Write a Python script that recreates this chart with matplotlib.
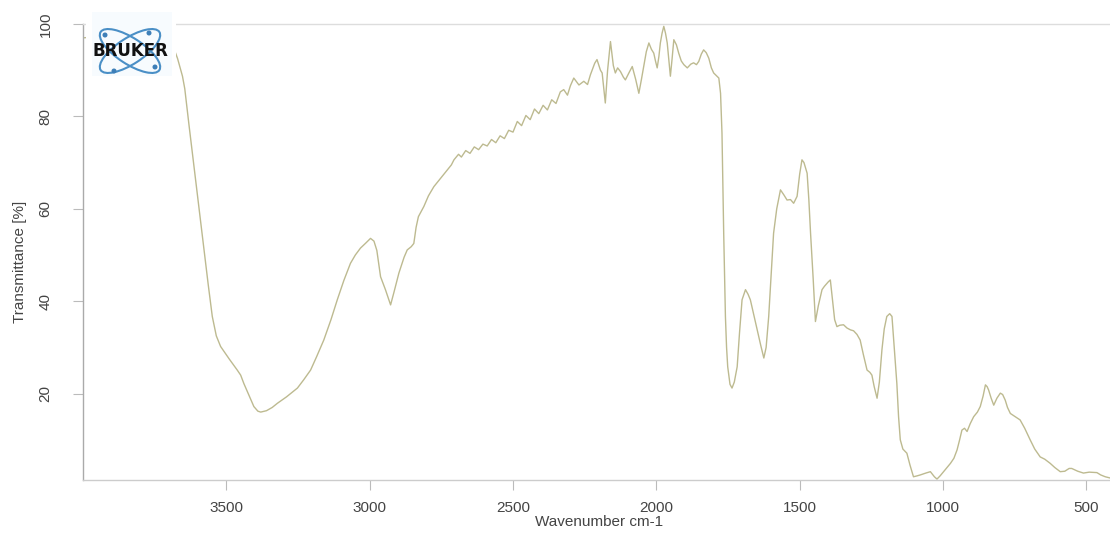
import matplotlib
matplotlib.use("Agg")
import matplotlib.pyplot as plt
from matplotlib.patches import Ellipse, Rectangle, Circle

# IR transmittance spectrum
wavenumber = [
    4000, 3900, 3800, 3740, 3710, 3694, 3670, 3653, 3645, 3630, 3613, 3595, 3578,
    3563, 3549, 3535, 3520, 3490, 3462, 3450, 3439, 3420, 3404, 3390, 3380, 3360,
    3340, 3322, 3290, 3252, 3230, 3206, 3185, 3160, 3135, 3113, 3090, 3067, 3050,
    3032, 3015, 2997, 2985, 2975, 2962, 2945, 2927, 2915, 2898, 2880, 2869, 2855,
    2846, 2838, 2830, 2811, 2795, 2776, 2750, 2729, 2715, 2706, 2690, 2680, 2665,
    2650, 2635, 2620, 2605, 2590, 2575, 2560, 2545, 2530, 2515, 2500, 2485, 2470,
    2455, 2440, 2425, 2410, 2395, 2380, 2365, 2350, 2335, 2323, 2310, 2300, 2288,
    2270, 2253, 2240, 2230, 2215, 2207, 2195, 2189, 2178, 2170, 2160, 2150, 2143,
    2135, 2125, 2115, 2108, 2095, 2084, 2072, 2061, 2052, 2044, 2035, 2026, 2017,
    2009, 2003, 1997, 1991, 1986, 1980, 1974, 1968, 1962, 1956, 1951, 1945, 1939,
    1930, 1922, 1913, 1904, 1892, 1880, 1870, 1860, 1852, 1843, 1835, 1826, 1817,
    1808, 1800, 1790, 1782, 1776, 1771, 1765, 1759, 1755, 1751, 1743, 1736, 1728,
    1718, 1710, 1701, 1689, 1680, 1672, 1660, 1648, 1636, 1625, 1617, 1608, 1600,
    1591, 1580, 1567, 1555, 1544, 1532, 1521, 1509, 1500, 1492, 1485, 1474, 1468,
    1462, 1453, 1445, 1435, 1422, 1414, 1400, 1393, 1385, 1378, 1370, 1360, 1347,
    1335, 1323, 1312, 1300, 1289, 1278, 1265, 1255, 1248, 1240, 1230, 1222, 1213,
    1205, 1196, 1186, 1178, 1170, 1161, 1155, 1149, 1140, 1126, 1115, 1103, 1090,
    1079, 1060, 1044, 1030, 1021, 1010, 998, 986, 974, 962, 951, 942, 934, 925,
    916, 905, 893, 880, 870, 860, 852, 846, 841, 832, 823, 812, 800, 792, 783, 775,
    765, 748, 731, 715, 696, 680, 661, 645, 626, 610, 591, 575, 560, 551, 530, 510,
    490, 463, 450, 434, 416, 400,
]
transmittance = [
    97.0, 97.5, 97.2, 97.5, 97.8, 96.6, 92.5, 88.7, 86.0, 78.0, 69.2, 60.0, 51.1,
    43.5, 36.7, 32.5, 30.2, 27.5, 25.1, 24.0, 22.2, 19.5, 17.2, 16.2, 16.0, 16.3,
    17.0, 17.9, 19.3, 21.2, 23.0, 25.1, 28.0, 31.6, 36.0, 40.3, 44.5, 48.2, 50.0,
    51.5, 52.5, 53.6, 53.0, 51.0, 45.3, 42.5, 39.2, 42.0, 46.1, 49.5, 51.1, 51.8,
    52.5, 56.0, 58.3, 60.5, 62.8, 64.8, 66.8, 68.4, 69.5, 70.6, 71.8, 71.2, 72.6,
    72.0, 73.4, 72.8, 74.0, 73.6, 75.0, 74.3, 75.8, 75.2, 77.0, 76.6, 78.9, 78.0,
    80.2, 79.3, 81.6, 80.6, 82.4, 81.4, 83.6, 82.8, 85.3, 85.8, 84.6, 86.6, 88.3,
    86.8, 87.6, 86.9, 89.0, 91.5, 92.3, 90.0, 89.4, 82.9, 90.0, 96.2, 91.0, 89.4,
    90.5, 89.7, 88.5, 87.9, 89.5, 90.8, 88.0, 85.0, 88.0, 90.8, 94.0, 95.9, 94.5,
    93.7, 92.0, 90.5, 93.0, 95.9, 98.0, 99.5, 98.0, 95.9, 92.0, 88.7, 92.5, 96.6,
    95.5, 93.7, 92.0, 91.2, 90.5, 91.3, 91.6, 91.2, 91.9, 93.5, 94.4, 93.8, 92.6,
    90.5, 89.4, 88.8, 88.3, 85.0, 76.4, 54.7, 36.7, 30.0, 25.8, 22.0, 21.2, 22.5,
    25.8, 33.0, 40.3, 42.5, 41.5, 40.3, 37.0, 33.8, 30.5, 27.7, 30.0, 36.7, 45.0,
    54.7, 60.0, 64.1, 63.0, 61.9, 62.0, 61.2, 62.7, 67.5, 70.6, 70.0, 67.7, 62.0,
    54.7, 45.0, 35.6, 39.0, 42.5, 43.2, 44.2, 44.6, 40.0, 36.0, 34.5, 34.8, 34.9,
    34.2, 33.8, 33.6, 32.8, 31.6, 28.5, 25.1, 24.6, 24.0, 21.5, 19.0, 22.5, 29.5,
    34.0, 36.7, 37.3, 36.7, 30.0, 22.2, 15.0, 10.0, 8.0, 7.1, 4.5, 2.0, 2.2,
    2.4, 2.8, 3.1, 2.0, 1.5, 2.2, 3.1, 4.0, 4.9, 6.0, 7.8, 10.0, 12.1, 12.5,
    11.8, 13.5, 15.0, 16.0, 17.2, 19.5, 21.9, 21.5, 20.8, 19.0, 17.5, 19.0, 20.1, 19.8, 18.6, 17.0,
    15.7, 15.0, 14.3, 12.5, 10.0, 8.0, 6.3, 5.8, 4.9, 4.0, 3.1, 3.2, 3.8, 3.8, 3.2, 2.8,
    3.0, 2.9, 2.4, 2.0, 1.7, 1.6,
]

x_ticks = [3500, 3000, 2500, 2000, 1500, 1000, 500]
y_ticks = [20, 40, 60, 80, 100]

plt.rcParams["font.family"] = ["Liberation Sans", "DejaVu Sans"]

W, H = 1110, 535
fig = plt.figure(figsize=(W / 100, H / 100), dpi=100)
fig.patch.set_facecolor("white")

# axes box: left edge at 83 px, right edge just past the figure border
ax = fig.add_axes([83 / W, 55 / H, 1032 / W, 456 / H])
ax.plot(wavenumber, transmittance, color="#bdba90", lw=1.0)
ax.set_xlim(4000, 400)
ax.set_ylim(1.3, 100)

ax.set_xticks(x_ticks)
ax.set_yticks(y_ticks)
ax.set_yticklabels([str(v) for v in y_ticks], rotation=90, va="center")
ax.tick_params(axis="both", direction="out", length=7, width=0.8,
               color="#bbbbbb", labelcolor="#444444", labelsize=11)
ax.tick_params(axis="y", pad=15)
ax.tick_params(axis="x", pad=8)

ax.spines["left"].set_color("#aaaaaa")
ax.spines["bottom"].set_color("#cccccc")
ax.spines["top"].set_color("#dddddd")
ax.spines["right"].set_visible(False)
for s in ("left", "bottom", "top"):
    ax.spines[s].set_linewidth(1.0)

fig.text(599 / W, 1 - 522 / H, "Wavenumber cm-1", ha="center", va="center",
         fontsize=11, color="#444444")
fig.text(20 / W, 1 - 262 / H, "Transmittance [%]", ha="center", va="center",
         rotation=90, fontsize=11, color="#444444")

# BRUKER logo in the upper-left corner
lax = fig.add_axes([86 / W, 1 - 80 / H, 90 / W, 76 / H])
lax.set_xlim(0, 90)
lax.set_ylim(76, 0)
lax.axis("off")
lax.add_patch(Rectangle((0, 0), 90, 76, facecolor="white", edgecolor="none"))
lax.add_patch(Rectangle((6, 8), 80, 64, facecolor="#f7fbfe", edgecolor="none"))
for ang in (33, -33):
    lax.add_patch(Ellipse((44, 47), 70, 26, angle=ang, fill=False,
                          edgecolor="#4a8fc6", lw=1.5))
for cx, cy in ((19, 31), (69, 63), (28, 67), (63, 29)):
    lax.add_patch(Circle((cx, cy), 1.8, color="#3d7fb8"))
lax.text(44, 47, "BRUKER", ha="center", va="center", fontsize=12,
         fontweight="bold", color="#111111", family="DejaVu Sans")

fig.savefig("out.png", dpi=100, facecolor="white")
